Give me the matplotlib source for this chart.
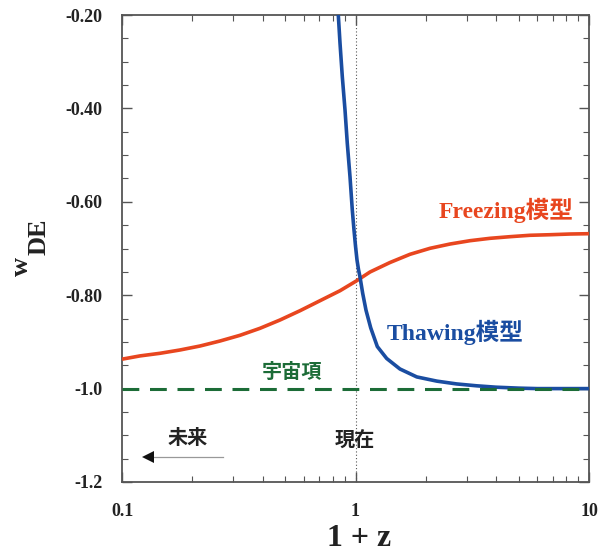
import matplotlib
matplotlib.use("Agg")
import matplotlib.pyplot as plt
from matplotlib.ticker import FixedLocator, LogLocator, NullFormatter, MultipleLocator

# Equation-of-state parameter w_DE against 1 + z
freezing_x = [0.1, 0.1194, 0.1455, 0.1772, 0.2158, 0.2628, 0.3201, 0.3899, 0.475, 0.5786,
              0.7047, 0.8584, 1.012, 1.154, 1.405, 1.712, 2.085, 2.54, 3.093, 3.767,
              4.588, 5.588, 6.808, 8.291, 10.0]
freezing_w = [-0.937, -0.930, -0.9244, -0.9173, -0.9088, -0.8981, -0.8859, -0.8709, -0.8531,
              -0.8332, -0.8118, -0.7904, -0.769, -0.7503, -0.730, -0.7124, -0.6996, -0.6904,
              -0.6833, -0.6782, -0.6747, -0.6717, -0.6705, -0.669, -0.6683]

thawing_x = [0.838, 0.844, 0.8584, 0.878, 0.9017, 0.9222, 0.9472, 0.9689, 0.9853, 1.0,
             1.0149, 1.030, 1.0454, 1.0735, 1.109, 1.162, 1.24, 1.36, 1.55, 1.83, 2.23,
             2.71, 3.30, 4.0, 5.0, 6.0, 10.0]
thawing_w = [-0.18, -0.20, -0.2606, -0.3321, -0.4034, -0.4747, -0.5463, -0.6176, -0.6604,
             -0.6946, -0.7246, -0.745, -0.761, -0.796, -0.832, -0.870, -0.910, -0.9355,
             -0.958, -0.975, -0.984, -0.990, -0.994, -0.997, -0.999, -1.0, -1.0]

lambda_x = [0.1, 10.0]
lambda_w = [-1.0, -1.0]

y_ticks = [-1.2, -1.0, -0.8, -0.6, -0.4, -0.2]
y_tick_labels = ["-1.2", "-1.0", "-0.80", "-0.60", "-0.40", "-0.20"]
x_ticks = [0.1, 1, 10]
x_tick_labels = ["0.1", "1", "10"]

RED = "#E8461F"
BLUE = "#1A4DA1"
GREEN = "#1C6C37"
INK = "#222222"

serif = "Liberation Serif"
mixed = [serif, "Noto Sans CJK JP"]
cjk = ["Noto Sans CJK JP", "DejaVu Sans"]

fig = plt.figure(figsize=(6.12, 5.53), dpi=100)
ax = fig.add_axes([122 / 612, 1 - 482 / 553, (589 - 122) / 612, (482 - 15) / 553])

ax.set_xscale("log")
ax.set_xlim(0.1, 10)
ax.set_ylim(-1.2, -0.2)

# present epoch marker
ax.axvline(1.0, color="#555555", lw=0.8, ls=(0, (1, 2)), zorder=1)

ax.plot(freezing_x, freezing_w, color=RED, lw=2.6, zorder=3,
        solid_joinstyle="round", solid_capstyle="butt")
ax.plot(thawing_x, thawing_w, color=BLUE, lw=2.6, zorder=3,
        solid_joinstyle="round", solid_capstyle="butt")
ax.plot(lambda_x, lambda_w, color=GREEN, lw=2.2, ls=(0, (5.5, 3.5)), zorder=4)

# ticks
ax.yaxis.set_major_locator(FixedLocator(y_ticks))
ax.set_yticklabels(y_tick_labels)
ax.yaxis.set_minor_locator(MultipleLocator(0.05))
ax.xaxis.set_major_locator(FixedLocator(x_ticks))
ax.set_xticklabels(x_tick_labels)
ax.xaxis.set_minor_locator(LogLocator(base=10, subs=range(2, 10)))
ax.xaxis.set_minor_formatter(NullFormatter())

ax.tick_params(which="both", direction="in", top=True, right=True, color="#555555")
ax.tick_params(which="major", length=7, width=1)
ax.tick_params(which="minor", length=4, width=0.8)
ax.tick_params(axis="y", which="major", pad=14)
ax.tick_params(axis="x", which="major", pad=15)
for lab in ax.get_xticklabels() + ax.get_yticklabels():
    lab.set_fontfamily(serif)
    lab.set_fontweight("bold")
    lab.set_fontsize(13)
    lab.set_color(INK)

for sp in ax.spines.values():
    sp.set_color("#555555")
    sp.set_linewidth(1.3)

# axis titles
fig.text(359 / 612, 1 - 538 / 553, "1 + z", family=serif, weight="bold", fontsize=23,
         ha="center", va="center", color=INK)
fig.text(21 / 612, 1 - 267 / 553, "w", family=serif, weight="bold", fontsize=19,
         rotation=90, ha="center", va="center", color=INK)
fig.text(39 / 612, 1 - 237 / 553, "DE", family=serif, weight="bold", fontsize=19,
         rotation=90, ha="center", va="center", color=INK)

# curve annotations
fig.text(506 / 612, 1 - 210 / 553, "Freezing模型", family=mixed, weight="bold",
         fontsize=17, color=RED, ha="center", va="center")
fig.text(455 / 612, 1 - 332 / 553, "Thawing模型", family=mixed, weight="bold",
         fontsize=17, color=BLUE, ha="center", va="center")
fig.text(292 / 612, 1 - 371 / 553, "宇宙項", family=cjk, weight="bold",
         fontsize=14.5, color=GREEN, ha="center", va="center")
fig.text(355 / 612, 1 - 440 / 553, "現在", family=cjk, weight="bold",
         fontsize=14.5, color=INK, ha="center", va="center")
fig.text(188 / 612, 1 - 437 / 553, "未来", family=cjk, weight="bold",
         fontsize=14.5, color=INK, ha="center", va="center")

# arrow towards the future
ax.plot([0.128, 0.271], [-1.146, -1.146], color="#999999", lw=0.9, zorder=3)
ax.plot([0.129], [-1.146], marker="<", markersize=9, color="#111111", zorder=4,
        markeredgewidth=0)

fig.savefig("out.png", dpi=100)
